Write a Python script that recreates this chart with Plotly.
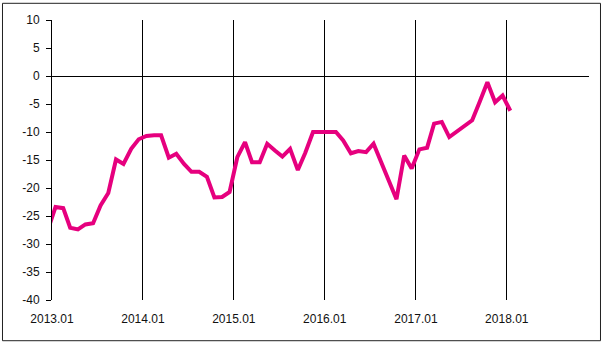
import pandas as pd
import plotly.graph_objects as go

# Monthly readings, 2012.12 .. 2018.01 (plotted mid-month)
start_month = "2012-12-01"
values = [
    -27.5,                                                    # 2012.12
    -23.4, -23.6, -27.1, -27.4, -26.5, -26.3, -23.1, -20.9, -14.9, -15.7, -13.0, -11.3,  # 2013
    -10.7, -10.6, -10.6, -14.6, -13.9, -15.7, -17.1, -17.1, -18.0, -21.7, -21.6, -20.7,  # 2014
    -14.5, -11.8, -15.4, -15.4, -12.1, -13.3, -14.4, -13.0, -16.8, -13.7, -10.0, -10.0,  # 2015
    -10.0, -10.0, -11.5, -13.8, -13.4, -13.6, -12.1, -15.4, -18.7, -22.0, -14.2, -16.5,  # 2016
    -13.1, -12.8, -8.5, -8.2, -10.9, -9.9, -9.1, -7.9, -4.5, -1.1, -4.7, -3.5,           # 2017
    -6.2,                                                     # 2018.01
]
dates = pd.date_range(start_month, periods=len(values), freq="MS") + pd.Timedelta(days=14)

y_ticks = [10, 5, 0, -5, -10, -15, -20, -25, -30, -35, -40]
y_ticktext = [str(v) for v in y_ticks]

x_range = ["2013-01-01", "2018-11-27"]
y_range = [-40, 10]

fig = go.Figure()
fig.add_trace(go.Scatter(
    x=dates, y=values, mode="lines",
    line=dict(color="#E6007E", width=4),
    cliponaxis=True, hoverinfo="skip",
))

font = dict(family="Liberation Sans, Arial, sans-serif", size=12, color="#111111")

fig.update_layout(
    width=605, height=345,
    margin=dict(l=52, r=16, t=20, b=45),
    paper_bgcolor="white", plot_bgcolor="white",
    showlegend=False, font=font,
    xaxis=dict(
        type="date", range=x_range,
        tick0="2013-01-01", dtick="M12", tickformat="%Y.%m",
        showgrid=True, gridcolor="black", gridwidth=1,
        showline=False, zeroline=False,
        ticks="outside", ticklen=8, tickcolor="rgba(0,0,0,0)",
        tickfont=font,
    ),
    yaxis=dict(
        range=y_range, tickvals=y_ticks, ticktext=y_ticktext,
        showgrid=False, zeroline=True, zerolinecolor="black", zerolinewidth=1,
        showline=True, linecolor="black", linewidth=1,
        ticks="outside", ticklen=5, tickcolor="black",
        ticklabelstandoff=4,
        tickfont=font,
    ),
    shapes=[dict(
        type="rect", xref="paper", yref="paper",
        x0=-0.0922, x1=1.0214, y0=-0.1454, y1=1.0596,
        line=dict(color="#222222", width=1), fillcolor="rgba(0,0,0,0)",
        layer="above",
    )],
)

fig.write_html("out.html")
